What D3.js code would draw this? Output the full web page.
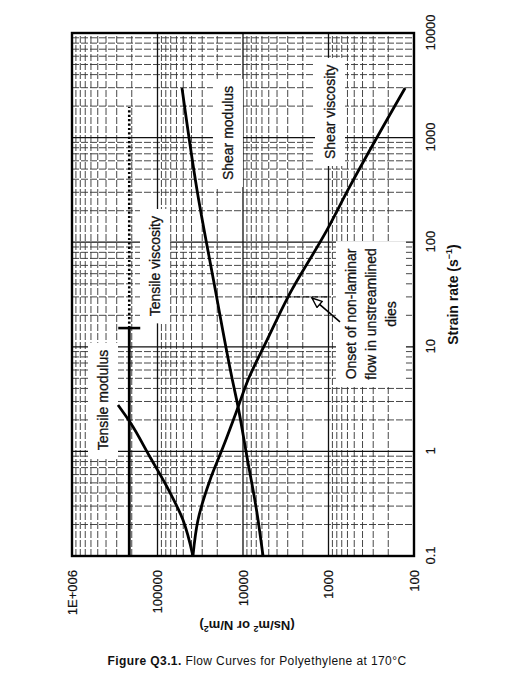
<!DOCTYPE html>
<html>
<head>
<meta charset="utf-8">
<script src="https://cdn.jsdelivr.net/npm/d3@7"></script>
<style>
  body { margin: 0; background: #fff; }
  svg { font-family: "Liberation Sans", Arial, sans-serif; }
</style>
</head>
<body>
<div id="chart"></div>
<script>
// axis ticks
const strainTicks = [0.1, 1, 10, 100, 1000, 10000];
const strainTickLabels = ["0.1", "1", "10", "100", "1000", "10000"];
const valueTicks = [100, 1000, 10000, 100000, 1000000];
const valueTickLabels = ["100", "1000", "10000", "100000", "1E+006"];

// curves (strain rate in 1/s, value in Ns/m2 or N/m2)
const shearViscosityRate = [0.1, 0.221, 0.533, 1.10, 2.49, 4.82, 11.6, 29.9, 131, 316, 2980];
const shearViscosity = [38500, 33600, 24300, 17100, 11750, 8740, 5240, 2980, 1040, 592, 127];

const shearModulusRate = [0.1, 0.258, 0.883, 2.65, 5.03, 40.7, 316, 2980];
const shearModulus = [5830, 6860, 8980, 11400, 13450, 21800, 34500, 51700];

const tensileModulusRate = [0.1, 0.221, 0.457, 0.883, 1.91, 2.78];
const tensileModulus = [38500, 50300, 77400, 122400, 210000, 290000];

const tensileViscosity = 214000;
const tensileViscosityRate = [0.1, 15.1];       // measured (solid)
const tensileViscosityExtRate = [15.1, 1960];   // extrapolated (dotted)

const onsetRate = 30;
const onsetValues = [8500, 950];

// the whole plot is drawn the normal way, then turned a quarter left
const pageW = 508, pageH = 700;
const W = 523, H = 342;           // strain axis length, value axis length
const originX = 72, originY = 556;

const svg = d3.select('#chart')
    .append('svg')
    .attr('width', pageW)
    .attr('height', pageH);

const g = svg.append('g')
    .attr('transform', `translate(${originX},${originY}) rotate(-90)`);

const x = d3.scaleLog().domain([0.1, 10000]).range([0, W]);
const y = d3.scaleLog().domain([100, 1000000]).range([H, 0]);

// log grid
const minorX = [], minorY = [];
strainTicks.slice(0, -1).forEach(d => { for (let k = 2; k <= 9; k++) minorX.push(d * k); });
valueTicks.slice(0, -1).forEach(d => { for (let k = 2; k <= 9; k++) minorY.push(d * k); });

const grid = g.append('g').attr('class', 'grid');
grid.selectAll('.gx').data(minorX).join('line')
    .attr('x1', d => x(d)).attr('x2', d => x(d))
    .attr('y1', 0).attr('y2', H)
    .attr('stroke', '#333').attr('stroke-width', 0.9)
    .attr('stroke-dasharray', '7,2');
grid.selectAll('.gy').data(minorY).join('line')
    .attr('y1', d => y(d)).attr('y2', d => y(d))
    .attr('x1', 0).attr('x2', W)
    .attr('stroke', '#333').attr('stroke-width', 0.9)
    .attr('stroke-dasharray', '7,2');
grid.selectAll('.mx').data(strainTicks).join('line')
    .attr('x1', d => x(d)).attr('x2', d => x(d))
    .attr('y1', 0).attr('y2', H)
    .attr('stroke', '#111').attr('stroke-width', 1.3);
grid.selectAll('.my').data(valueTicks).join('line')
    .attr('y1', d => y(d)).attr('y2', d => y(d))
    .attr('x1', 0).attr('x2', W)
    .attr('stroke', '#111').attr('stroke-width', 1.3);

// labels sit on white boxes that hide the grid
function boxedLabel(lines, rate, value, lineGap) {
    const lg = g.append('g');
    const t = lg.append('text')
        .attr('text-anchor', 'middle')
        .attr('font-size', 14)
        .attr('fill', '#111')
        .attr('stroke', '#111')
        .attr('stroke-width', 0.3);
    lines.forEach((s, i) => {
        t.append('tspan')
            .attr('x', x(rate))
            .attr('y', y(value) + 5 + i * lineGap)
            .text(s);
    });
    const b = t.node().getBBox();
    lg.insert('rect', 'text')
        .attr('x', b.x - 7).attr('y', b.y - 7)
        .attr('width', b.width + 14).attr('height', b.height + 14)
        .attr('fill', '#fff');
}

boxedLabel(['Tensile modulus'], 3.1, 434000, 0);
boxedLabel(['Tensile viscosity'], 59, 107000, 0);
boxedLabel(['Shear modulus'], 1107, 15000, 0);
boxedLabel(['Shear viscosity'], 1760, 960, 0);
boxedLabel(['Onset of non-laminar', 'flow in unstreamlined', 'dies'], 20.6, 546, 20);

// curves
const line = d3.line()
    .x(d => x(d[0]))
    .y(d => y(d[1]))
    .curve(d3.curveMonotoneX);

const curves = [
    d3.zip(shearViscosityRate, shearViscosity),
    d3.zip(shearModulusRate, shearModulus),
    d3.zip(tensileModulusRate, tensileModulus)
];
g.selectAll('.curve').data(curves).join('path')
    .attr('class', 'curve')
    .attr('d', line)
    .attr('fill', 'none')
    .attr('stroke', '#000')
    .attr('stroke-width', 2.8);

g.append('path')
    .datum(tensileViscosityRate.map(r => [r, tensileViscosity]))
    .attr('d', line)
    .attr('fill', 'none')
    .attr('stroke', '#000')
    .attr('stroke-width', 2.8);

g.append('path')
    .datum(tensileViscosityExtRate.map(r => [r, tensileViscosity]))
    .attr('d', line)
    .attr('fill', 'none')
    .attr('stroke', '#000')
    .attr('stroke-width', 2.6)
    .attr('stroke-dasharray', '2.2,2.2');

// end bar of the measured tensile viscosity
g.append('line')
    .attr('x1', x(tensileViscosityRate[1])).attr('x2', x(tensileViscosityRate[1]))
    .attr('y1', y(tensileViscosity) - 11).attr('y2', y(tensileViscosity) + 11)
    .attr('stroke', '#000').attr('stroke-width', 2.6);

// onset of non-laminar flow
g.append('line')
    .attr('x1', x(onsetRate)).attr('x2', x(onsetRate))
    .attr('y1', y(onsetValues[0])).attr('y2', y(onsetValues[1]))
    .attr('stroke', '#111').attr('stroke-width', 1.4)
    .attr('stroke-dasharray', '6,3');

svg.append('defs').append('marker')
    .attr('id', 'openArrow')
    .attr('viewBox', '0 0 12 10')
    .attr('refX', 11).attr('refY', 5)
    .attr('markerWidth', 12).attr('markerHeight', 10)
    .attr('markerUnits', 'userSpaceOnUse')
    .attr('orient', 'auto')
    .append('path')
    .attr('d', 'M1,1 L11,5 L1,9 Z')
    .attr('fill', '#fff')
    .attr('stroke', '#000')
    .attr('stroke-width', 1.4);

g.append('line')
    .attr('x1', x(17.3)).attr('y1', y(734))
    .attr('x2', x(29.3)).attr('y2', y(1560))
    .attr('stroke', '#000').attr('stroke-width', 1.6)
    .attr('marker-end', 'url(#openArrow)');

// frame
g.append('rect')
    .attr('width', W).attr('height', H)
    .attr('fill', 'none')
    .attr('stroke', '#000')
    .attr('stroke-width', 2.4);

// axes
const xAxis = d3.axisBottom(x)
    .tickValues(strainTicks)
    .tickFormat((d, i) => strainTickLabels[i])
    .tickSize(0)
    .tickPadding(12);

const yAxis = d3.axisLeft(y)
    .tickValues(valueTicks)
    .tickFormat((d, i) => valueTickLabels[i])
    .tickSize(0)
    .tickPadding(14);

const xDisplay = g.append('g')
    .attr('transform', `translate(0,${H})`)
    .call(xAxis);
const yDisplay = g.append('g').call(yAxis);

[xDisplay, yDisplay].forEach(a => {
    a.select('.domain').remove();
    a.selectAll('text')
        .attr('font-size', 13)
        .attr('font-family', '"Liberation Sans", Arial, sans-serif')
        .attr('fill', '#111')
        .attr('stroke', '#111')
        .attr('stroke-width', 0.2);
});

// axis titles
const xTitle = g.append('text')
    .attr('x', W / 2)
    .attr('y', H + 44)
    .attr('text-anchor', 'middle')
    .attr('font-size', 14)
    .attr('font-weight', 'bold')
    .attr('fill', '#111');
xTitle.append('tspan').text('Strain rate (s');
xTitle.append('tspan').attr('font-size', 9).attr('dy', -6).text('\u22121');
xTitle.append('tspan').attr('dy', 6).text(')');

const yTitle = g.append('text')
    .attr('transform', `translate(-65,${H / 2 + 4}) rotate(-90)`)
    .attr('text-anchor', 'middle')
    .attr('font-size', 13)
    .attr('font-weight', 'bold')
    .attr('fill', '#111');
yTitle.append('tspan').text('(Ns/m');
yTitle.append('tspan').attr('font-size', 9).attr('dy', -5).text('2');
yTitle.append('tspan').attr('dy', 5).text(' or N/m');
yTitle.append('tspan').attr('font-size', 9).attr('dy', -5).text('2');
yTitle.append('tspan').attr('dy', 5).text(')');

// figure caption
const caption = svg.append('text')
    .attr('x', 257)
    .attr('y', 665)
    .attr('text-anchor', 'middle')
    .attr('font-size', 12)
    .attr('letter-spacing', 0.4)
    .attr('fill', '#111');
caption.append('tspan').attr('font-weight', 'bold').text('Figure Q3.1.');
caption.append('tspan').text(' Flow Curves for Polyethylene at 170\u00b0C');
</script>
</body>
</html>
